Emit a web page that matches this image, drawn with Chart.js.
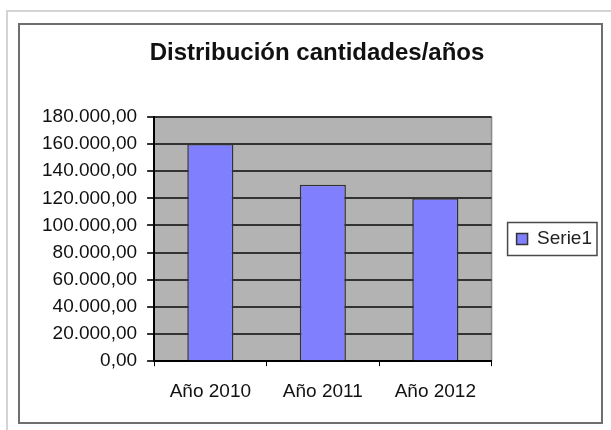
<!DOCTYPE html>
<html>
<head>
<meta charset="utf-8">
<script src="https://cdn.jsdelivr.net/npm/chart.js@4.4.0/dist/chart.umd.min.js"></script>
<style>
  html, body { margin: 0; padding: 0; background: #fff; }
  canvas { display: block; }
</style>
</head>
<body>
<canvas id="chart" width="611" height="430"></canvas>
<script>
const years = ["Año 2010", "Año 2011", "Año 2012"];
const serie1 = [160000, 130000, 120000];
const yMin = 0;
const yMax = 180000;
const yStep = 20000;

function formatEs(n) {
  const parts = n.toFixed(2).split(".");
  const int = parts[0].replace(/\B(?=(\d{3})+(?!\d))/g, ".");
  return int + "," + parts[1];
}

// frames, plot background and the box round the legend
const frames = {
  id: "frames",
  beforeDraw(chart) {
    const ctx = chart.ctx;
    const a = chart.chartArea;
    ctx.save();
    ctx.strokeStyle = "#d4d4d4";
    ctx.lineWidth = 2;
    ctx.strokeRect(7, 11, 640, 440);
    ctx.strokeStyle = "#6e6e6e";
    ctx.lineWidth = 2;
    ctx.strokeRect(19, 24, 583, 399);
    ctx.fillStyle = "#b3b3b3";
    ctx.fillRect(a.left, a.top, a.right - a.left, a.bottom - a.top);
    ctx.strokeStyle = "#8a8a8a";
    ctx.lineWidth = 1.5;
    ctx.beginPath();
    ctx.moveTo(a.right, a.top);
    ctx.lineTo(a.right, a.bottom);
    ctx.stroke();
    ctx.restore();
  },
  afterDraw(chart) {
    const hb = chart.legend.legendHitBoxes[0];
    if (!hb) return;
    const ctx = chart.ctx;
    const cy = hb.top + hb.height / 2;
    ctx.save();
    ctx.strokeStyle = "#4a4a4a";
    ctx.lineWidth = 1.5;
    ctx.strokeRect(hb.left - 9, cy - 16.5, hb.width + 14, 33);
    ctx.restore();
  }
};

new Chart(document.getElementById("chart").getContext("2d"), {
  type: "bar",
  data: {
    labels: years,
    datasets: [
      {
        label: "Serie1",
        data: serie1,
        backgroundColor: "#8080ff",
        borderColor: "#333333",
        borderWidth: 1.5,
        barPercentage: 0.41,
        categoryPercentage: 1
      }
    ]
  },
  options: {
    responsive: false,
    animation: false,
    devicePixelRatio: 1,
    layout: { padding: { left: 32, right: 9, top: 24, bottom: 13 } },
    plugins: {
      title: {
        display: true,
        text: "Distribución cantidades/años",
        color: "#111",
        font: { family: "'Liberation Sans', Arial", size: 24, weight: "bold" },
        padding: { top: 15, bottom: 49 }
      },
      legend: {
        position: "right",
        fullSize: false,
        labels: {
          boxWidth: 11,
          boxHeight: 11,
          padding: 25,
          color: "#222",
          font: { family: "'Liberation Sans', Arial", size: 19 }
        }
      },
      tooltip: { enabled: false }
    },
    scales: {
      x: {
        grid: {
          offset: true,
          drawOnChartArea: false,
          drawTicks: true,
          tickLength: 5,
          color: "#000"
        },
        border: { display: true, color: "#000", width: 2 },
        ticks: {
          color: "#111",
          padding: 14,
          font: { family: "'Liberation Sans', Arial", size: 19 }
        }
      },
      y: {
        min: yMin,
        max: yMax,
        grid: {
          color: "#333",
          lineWidth: 2,
          tickLength: 7
        },
        border: { display: true, color: "#000", width: 2 },
        ticks: {
          stepSize: yStep,
          autoSkip: false,
          color: "#111",
          padding: 10,
          font: { family: "'Liberation Sans', Arial", size: 19 },
          callback: (v) => formatEs(v)
        }
      }
    }
  },
  plugins: [frames]
});
</script>
</body>
</html>
